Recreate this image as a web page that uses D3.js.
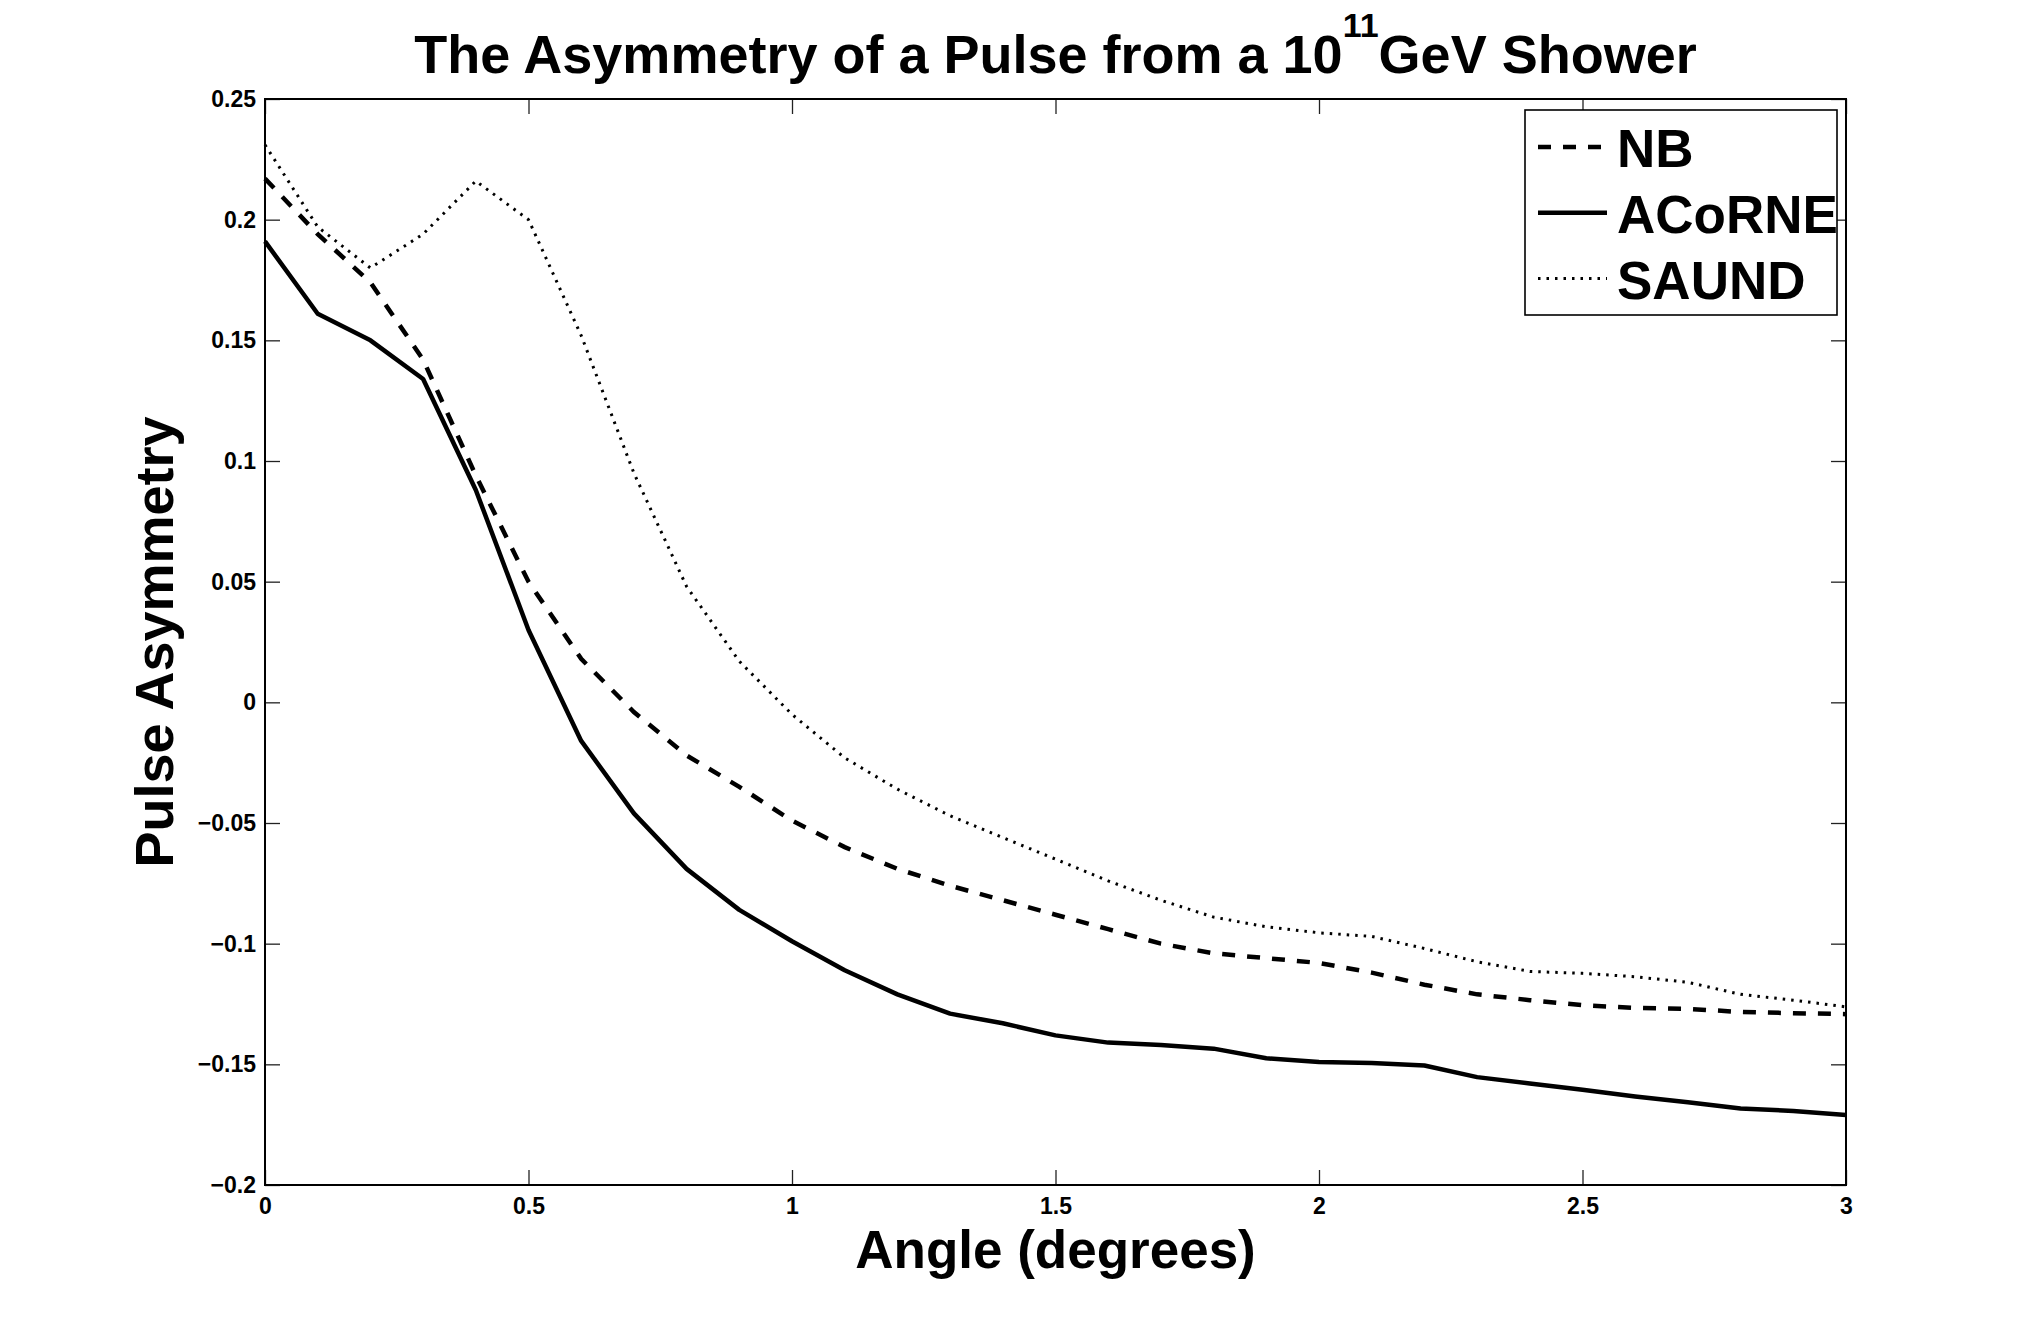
<!DOCTYPE html>
<html>
<head>
<meta charset="utf-8">
<script src="https://cdn.jsdelivr.net/npm/d3@7"></script>
<style>
  body { margin: 0; background: #fff; }
  text { font-family: "Liberation Sans", Arial, Helvetica, sans-serif; font-weight: bold; fill: #000; }
</style>
</head>
<body>
<div id="graphContainer"></div>
<script>
// values, one point every 0.1 degree

var angles = [0, 0.1, 0.2, 0.3, 0.4, 0.5, 0.6, 0.7, 0.8, 0.9,
              1, 1.1, 1.2, 1.3, 1.4, 1.5, 1.6, 1.7, 1.8, 1.9,
              2, 2.1, 2.2, 2.3, 2.4, 2.5, 2.6, 2.7, 2.8, 2.9, 3];

var nb = [0.217, 0.194, 0.174, 0.142, 0.094, 0.050, 0.018, -0.004, -0.022, -0.035,
          -0.049, -0.060, -0.069, -0.076, -0.082, -0.088, -0.094, -0.100, -0.104, -0.106,
          -0.108, -0.112, -0.117, -0.121, -0.1234, -0.1255, -0.1266, -0.127, -0.1283, -0.1288, -0.1292];

var acorne = [0.191, 0.161, 0.150, 0.134, 0.088, 0.030, -0.016, -0.046, -0.069, -0.086,
              -0.099, -0.111, -0.121, -0.129, -0.133, -0.138, -0.141, -0.142, -0.1435, -0.1475,
              -0.149, -0.1494, -0.1505, -0.1553, -0.1579, -0.1605, -0.1633, -0.1657, -0.1683, -0.1693, -0.171];

var saund = [0.231, 0.197, 0.180, 0.194, 0.216, 0.200, 0.152, 0.095, 0.048, 0.017,
             -0.005, -0.023, -0.036, -0.047, -0.056, -0.065, -0.074, -0.082, -0.089, -0.093,
             -0.0955, -0.097, -0.102, -0.1075, -0.1115, -0.1123, -0.1137, -0.116, -0.121, -0.1234, -0.1262];

var xTicks = [0, 0.5, 1, 1.5, 2, 2.5, 3];
var xTickLabels = ["0", "0.5", "1", "1.5", "2", "2.5", "3"];
var yTicks = [-0.2, -0.15, -0.1, -0.05, 0, 0.05, 0.1, 0.15, 0.2, 0.25];
var yTickLabels = ["\u22120.2", "\u22120.15", "\u22120.1", "\u22120.05", "0", "0.05", "0.1", "0.15", "0.2", "0.25"];

var seriesNames = ["NB", "ACoRNE", "SAUND"];

var width = 2040, height = 1333;
// plot box in page pixels (not "top": that name is taken by window.top)
var plotLeft = 265, plotRight = 1846, plotTop = 99, plotBottom = 1185;
var tickLen = 15;

var svg = d3.select("#graphContainer")
    .append("svg")
    .attr("width", width)
    .attr("height", height);

var xScale = d3.scaleLinear().domain([0, 3]).range([plotLeft, plotRight]);
var yScale = d3.scaleLinear().domain([-0.2, 0.25]).range([plotBottom, plotTop]);

// axes, ticks pointing inwards on all four sides
var xAxis = d3.axisBottom(xScale).tickValues(xTicks)
    .tickFormat(function(d, i) { return xTickLabels[i]; })
    .tickSizeInner(-tickLen).tickSizeOuter(0).tickPadding(13);
var yAxis = d3.axisLeft(yScale).tickValues(yTicks)
    .tickFormat(function(d, i) { return yTickLabels[i]; })
    .tickSizeInner(-tickLen).tickSizeOuter(0).tickPadding(9);

var gx = svg.append("g").attr("id", "x-axis")
    .attr("transform", `translate(0, ${plotBottom})`).call(xAxis);
var gy = svg.append("g").attr("id", "y-axis")
    .attr("transform", `translate(${plotLeft}, 0)`).call(yAxis);
var gxTop = svg.append("g")
    .attr("transform", `translate(0, ${plotTop})`)
    .call(d3.axisTop(xScale).tickValues(xTicks).tickFormat("").tickSizeInner(-tickLen).tickSizeOuter(0));
var gyRight = svg.append("g")
    .attr("transform", `translate(${plotRight}, 0)`)
    .call(d3.axisRight(yScale).tickValues(yTicks).tickFormat("").tickSizeInner(-tickLen).tickSizeOuter(0));

[gx, gy, gxTop, gyRight].forEach(function(g) {
    g.select(".domain").remove();
    g.selectAll(".tick line").attr("stroke", "#222").attr("stroke-width", 1.3);
    g.selectAll(".tick text")
        .attr("font-size", 23)
        .attr("font-family", '"Liberation Sans", Arial, sans-serif')
        .attr("font-weight", "bold")
        .attr("fill", "#000");
});

// curves
var line = d3.line()
    .x(function(d, i) { return xScale(angles[i]); })
    .y(function(d) { return yScale(d); });

var styles = {
    NB: { width: 4.5, dash: "13,12" },
    ACoRNE: { width: 4.5, dash: null },
    SAUND: { width: 3, dash: "2.5,6" }
};

svg.append("path").datum(saund)
    .attr("d", line).attr("fill", "none").attr("stroke", "#000")
    .attr("stroke-width", styles.SAUND.width).attr("stroke-dasharray", styles.SAUND.dash);
svg.append("path").datum(nb)
    .attr("d", line).attr("fill", "none").attr("stroke", "#000")
    .attr("stroke-width", styles.NB.width).attr("stroke-dasharray", styles.NB.dash);
svg.append("path").datum(acorne)
    .attr("d", line).attr("fill", "none").attr("stroke", "#000")
    .attr("stroke-width", styles.ACoRNE.width).attr("stroke-linejoin", "round");

// plot frame
svg.append("rect")
    .attr("x", plotLeft).attr("y", plotTop)
    .attr("width", plotRight - plotLeft).attr("height", plotBottom - plotTop)
    .attr("fill", "none").attr("stroke", "#000").attr("stroke-width", 2);

// legend
var lg = svg.append("g").attr("transform", "translate(1525, 110)");
lg.append("rect")
    .attr("width", 312).attr("height", 205)
    .attr("fill", "#fff").attr("stroke", "#000").attr("stroke-width", 1.6);

seriesNames.forEach(function(name, i) {
    var yy = 37 + i * 65.8;
    lg.append("line")
        .attr("x1", 13).attr("x2", 82)
        .attr("y1", yy).attr("y2", yy)
        .attr("stroke", "#000")
        .attr("stroke-width", styles[name].width)
        .attr("stroke-dasharray", styles[name].dash);
    lg.append("text")
        .attr("x", 92).attr("y", yy + 20)
        .attr("font-size", 53)
        .text(name);
});

// title with superscript exponent
var title = svg.append("text")
    .attr("x", (plotLeft + plotRight) / 2)
    .attr("y", 73)
    .attr("text-anchor", "middle")
    .attr("font-size", 54);
title.append("tspan").text("The Asymmetry of a Pulse from a 10");
title.append("tspan").attr("dy", -36).attr("font-size", 34).text("11");
title.append("tspan").attr("dy", 36).text("GeV Shower");

// axis labels
svg.append("text")
    .attr("x", (plotLeft + plotRight) / 2)
    .attr("y", 1268)
    .attr("text-anchor", "middle")
    .attr("font-size", 53)
    .text("Angle (degrees)");

svg.append("text")
    .attr("transform", `translate(173, ${(plotTop + plotBottom) / 2}) rotate(-90)`)
    .attr("text-anchor", "middle")
    .attr("font-size", 54)
    .text("Pulse Asymmetry");
</script>
</body>
</html>
